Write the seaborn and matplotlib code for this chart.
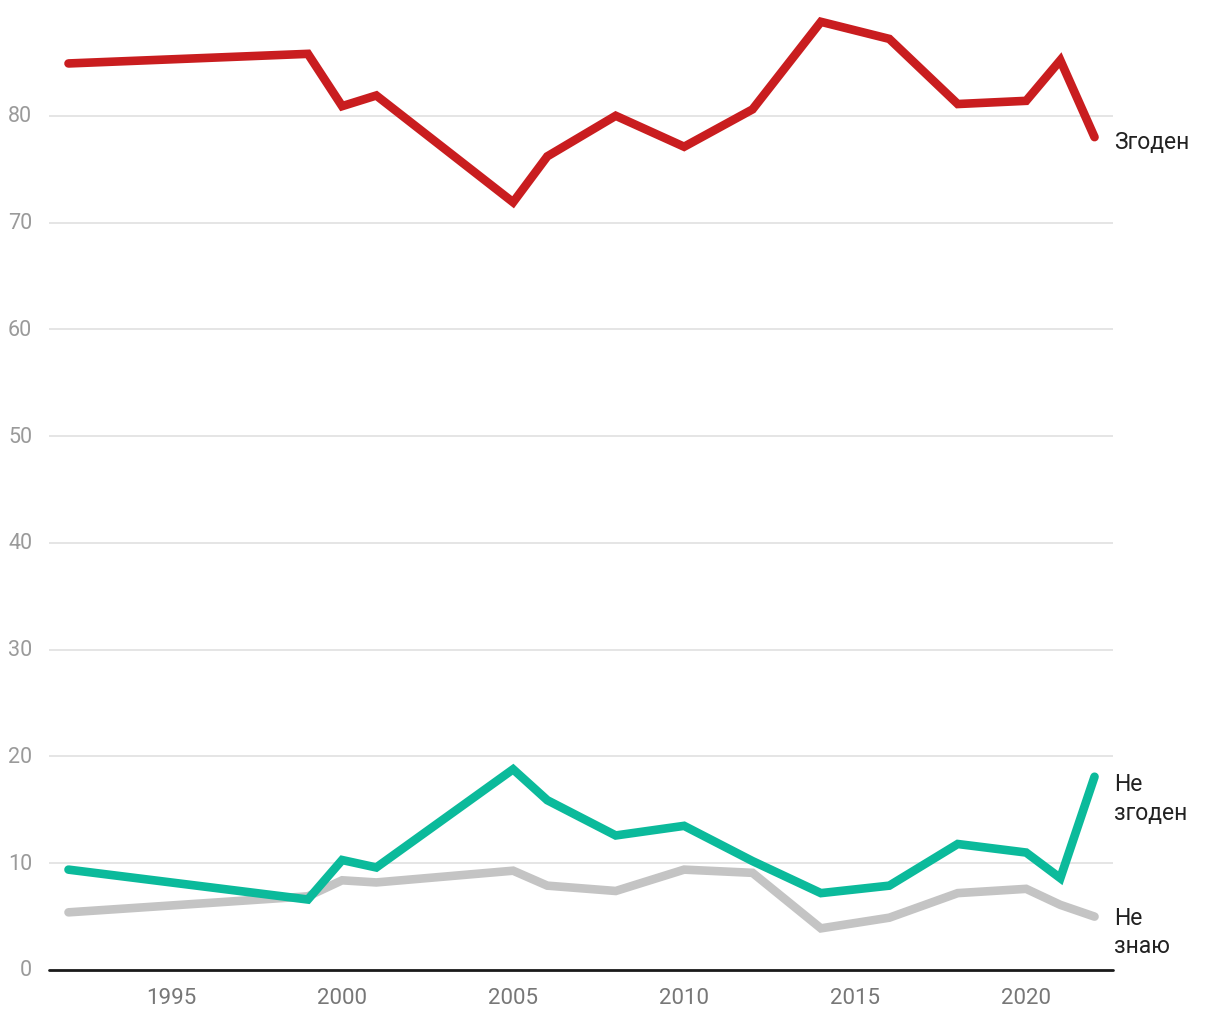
import matplotlib
matplotlib.use("Agg")
import matplotlib.pyplot as plt
import seaborn as sns
import pandas as pd

years = [1992, 1999, 2000, 2001, 2005, 2006, 2008, 2010, 2012, 2014, 2016, 2018, 2020, 2021, 2022]
agree = [84.9, 85.8, 80.9, 81.9, 71.9, 76.2, 80.0, 77.1, 80.6, 88.8, 87.2, 81.1, 81.4, 85.2, 78.0]
disagree = [9.4, 6.6, 10.3, 9.6, 18.8, 15.9, 12.6, 13.5, 10.2, 7.2, 7.9, 11.8, 11.0, 8.6, 18.1]
dontknow = [5.4, 6.9, 8.4, 8.2, 9.3, 7.9, 7.4, 9.4, 9.1, 3.9, 4.9, 7.2, 7.6, 6.1, 5.0]
series_names = ["Згоден", "Не\nзгоден", "Не\nзнаю"]
colors = ["#c91d1f", "#0bba9b", "#c4c4c4"]
yticks = [0, 10, 20, 30, 40, 50, 60, 70, 80]
xticks = [1995, 2000, 2005, 2010, 2015, 2020]

sns.set_theme(style="white")
plt.rcParams['font.family'] = ['Roboto', 'DejaVu Sans']

rows = []
for name, vals in zip(series_names, [agree, disagree, dontknow]):
    for y, v in zip(years, vals):
        rows.append({"year": y, "value": v, "series": name})
df = pd.DataFrame(rows)

fig = plt.figure(figsize=(12.2, 10.2), dpi=100)
ax = fig.add_axes([49/1220, 1 - 971/1020, (1113-49)/1220, (971-10)/1020])

order = [2, 1, 0]
for i in order:
    sub = df[df.series == series_names[i]]
    sns.lineplot(data=sub, x="year", y="value", color=colors[i], linewidth=6.2,
                 ax=ax, legend=False, solid_capstyle="round", solid_joinstyle="miter")

ax.set_xlim(1991.43, 2022.54)
ax.set_ylim(0, 90)
ax.set_yticks(yticks)
ax.set_xticks(xticks)
for y in yticks[1:]:
    ax.axhline(y, color="#e3e3e3", linewidth=1.3, zorder=0)
ax.axhline(0, color="#1a1a1a", linewidth=2, zorder=1, clip_on=False)
for s in ax.spines.values():
    s.set_visible(False)
ax.set_xlabel("")
ax.set_ylabel("")
ax.tick_params(axis="y", length=0, pad=12, labelsize=15.5, labelcolor="#9a9a9a")
ax.tick_params(axis="x", length=0, pad=12, labelsize=16, labelcolor="#777777")
for lbl in ax.get_yticklabels():
    lbl.set_verticalalignment("center")

label_pos = [agree[-1] - 0.4, disagree[-1] - 2.0, dontknow[-1] - 1.4]
for name, yv in zip(series_names, label_pos):
    ax.text(years[-1] + 0.57, yv, name, fontsize=16.5, color="#222222",
            va="center", ha="left", linespacing=1.3, clip_on=False)

fig.savefig("out.png", dpi=100)
